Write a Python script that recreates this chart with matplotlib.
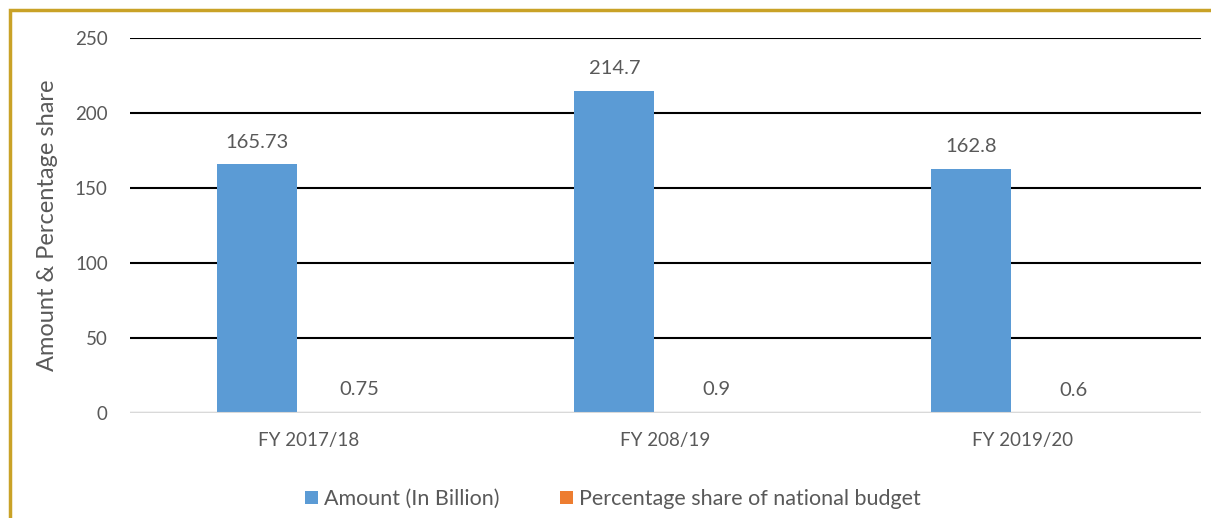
import numpy as np
import matplotlib.pyplot as plt
from matplotlib.patches import Rectangle

years = ["FY 2017/18", "FY 208/19", "FY 2019/20"]
amount = [165.73, 214.7, 162.8]
share = [0.75, 0.9, 0.6]
amount_lbl = ["165.73", "214.7", "162.8"]
share_lbl = ["0.75", "0.9", "0.6"]

plt.rcParams['font.family'] = ['Lato', 'DejaVu Sans']
grey = '#595959'

fig = plt.figure(figsize=(12.11, 5.18), dpi=100)
ax = fig.add_axes([130/1211, 1-413/518, 1071/1211, 375/518])

x = np.arange(len(years))
w = 0.224
off = 0.143
b1 = ax.bar(x - off, amount, w, color='#5B9BD5', label='Amount (In Billion)', zorder=3)
b2 = ax.bar(x + off, share, w, color='#ED7D31', label='Percentage share of national budget', zorder=3)

# data labels above each bar
for i in range(len(x)):
    ax.text(x[i] - off, amount[i] + 9, amount_lbl[i], ha='center', va='bottom', fontsize=14.5, color=grey)
    ax.text(x[i] + off, share[i] + 9, share_lbl[i], ha='center', va='bottom', fontsize=14.5, color=grey)

ax.set_xlim(-0.5, 2.5)
ax.set_ylim(0, 250)
ax.set_yticks([0, 50, 100, 150, 200, 250])
ax.yaxis.grid(True, color='black', linewidth=1.5, zorder=0)
ax.axhline(0, color='#D9D9D9', linewidth=1.5, zorder=4)
ax.set_xticks(x)
ax.set_xticklabels(years)
ax.tick_params(length=0, labelsize=13.5, labelcolor=grey)
ax.tick_params(axis='x', pad=14)
ax.tick_params(axis='y', pad=16)
for s in ax.spines.values():
    s.set_visible(False)
ax.set_ylabel('Amount & Percentage share', fontsize=17, color=grey, labelpad=12)

fig.legend(handles=[b1, b2], loc='center', bbox_to_anchor=(0.506, 1-499/518), ncol=2, frameon=False,
           fontsize=15.5, labelcolor=grey, handlelength=0.6, handleheight=0.6, handletextpad=0.3,
           columnspacing=2.8)

fig.patches.append(Rectangle((10/1211, -0.1), 1.2, 1-10/518+0.1, transform=fig.transFigure,
                             fill=False, edgecolor='#C9A227', linewidth=2.5))

fig.savefig('out.png', dpi=100)
